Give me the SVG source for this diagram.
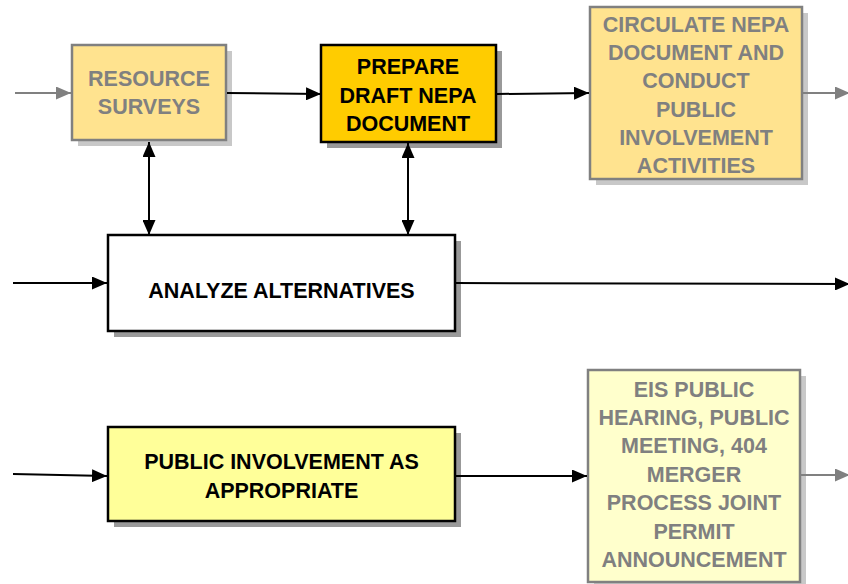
<svg xmlns="http://www.w3.org/2000/svg" width="848" height="584" viewBox="0 0 848 584">
<defs>
<marker id="ab" viewBox="0 0 15 13" refX="15" refY="6.5" markerWidth="15" markerHeight="13" markerUnits="userSpaceOnUse" orient="auto-start-reverse"><path d="M0,0 L15,6.5 L0,13 Z" fill="#000"/></marker>
<marker id="ag" viewBox="0 0 15 13" refX="15" refY="6.5" markerWidth="15" markerHeight="13" markerUnits="userSpaceOnUse" orient="auto"><path d="M0,0 L15,6.5 L0,13 Z" fill="#808080"/></marker>
</defs>
<style>
text{font-family:"Liberation Sans",Arial,sans-serif;font-weight:bold;font-size:21.5px;text-anchor:middle}
.dk{fill:#000}.gt{fill:#808080}
.sd{fill:#999}.sl{fill:#c8c8c8}
.bk{stroke:#000;stroke-width:2.5}.gb{stroke:#808080;stroke-width:2.5}
.cb{stroke:#000;stroke-width:2;fill:none;marker-end:url(#ab)}
.cg{stroke:#808080;stroke-width:2;fill:none;marker-end:url(#ag)}
</style>
<rect width="848" height="584" fill="#fff"/>
<g id="resource-surveys">
<rect class="sl" x="78" y="51" width="154" height="95"/>
<rect class="gb" x="72" y="45" width="154" height="95" fill="#FFE38F"/>
<text class="gt" x="149" y="86">RESOURCE</text>
<text class="gt" x="149" y="114">SURVEYS</text>
</g>
<g id="prepare-draft">
<rect class="sd" x="327" y="51" width="175" height="97"/>
<rect class="bk" x="321" y="45" width="175" height="97" fill="#FFCC00"/>
<text class="dk" x="408" y="74">PREPARE</text>
<text class="dk" x="408" y="102.5">DRAFT NEPA</text>
<text class="dk" x="408" y="131">DOCUMENT</text>
</g>
<g id="circulate">
<rect class="sl" x="596" y="13" width="212" height="172"/>
<rect class="gb" x="590" y="7" width="212" height="172" fill="#FFE38F"/>
<text class="gt" x="696" y="31.5">CIRCULATE NEPA</text>
<text class="gt" x="696" y="60">DOCUMENT AND</text>
<text class="gt" x="696" y="88">CONDUCT</text>
<text class="gt" x="696" y="116.5">PUBLIC</text>
<text class="gt" x="696" y="145">INVOLVEMENT</text>
<text class="gt" x="696" y="173">ACTIVITIES</text>
</g>
<g id="analyze">
<rect class="sd" x="114" y="241" width="347" height="96"/>
<rect class="bk" x="108" y="235" width="347" height="96" fill="#fff"/>
<text class="dk" x="281.5" y="297.5">ANALYZE ALTERNATIVES</text>
</g>
<g id="public-involvement">
<rect class="sd" x="114" y="433" width="347" height="94"/>
<rect class="bk" x="108" y="427" width="347" height="94" fill="#FFFF99"/>
<text class="dk" x="281.5" y="468.5">PUBLIC INVOLVEMENT AS</text>
<text class="dk" x="281.5" y="497.5">APPROPRIATE</text>
</g>
<g id="eis-hearing">
<rect class="sl" x="594" y="376" width="212" height="212"/>
<rect class="gb" x="588" y="370" width="212" height="212" fill="#FFFFCC"/>
<text class="gt" x="694" y="396.5">EIS PUBLIC</text>
<text class="gt" x="694" y="424.5">HEARING, PUBLIC</text>
<text class="gt" x="694" y="453">MEETING, 404</text>
<text class="gt" x="694" y="481.5">MERGER</text>
<text class="gt" x="694" y="510">PROCESS JOINT</text>
<text class="gt" x="694" y="538.5">PERMIT</text>
<text class="gt" x="694" y="566.5">ANNOUNCEMENT</text>
</g>
<g id="connectors">
<line class="cg" x1="15" y1="93" x2="71" y2="93"/>
<line class="cb" x1="227" y1="93" x2="321" y2="94"/>
<line class="cb" x1="497" y1="94" x2="589" y2="93"/>
<line class="cg" x1="803" y1="93" x2="850" y2="93"/>
<line class="cb" x1="149" y1="142" x2="149" y2="235" marker-start="url(#ab)"/>
<line class="cb" x1="408" y1="143" x2="408" y2="235" marker-start="url(#ab)"/>
<line class="cb" x1="13" y1="283" x2="107" y2="283"/>
<line class="cb" x1="456" y1="283" x2="850" y2="284"/>
<line class="cb" x1="13" y1="474" x2="107" y2="476"/>
<line class="cb" x1="456" y1="476" x2="587" y2="476"/>
<line class="cg" x1="801" y1="475" x2="850" y2="475"/>
</g>
</svg>
